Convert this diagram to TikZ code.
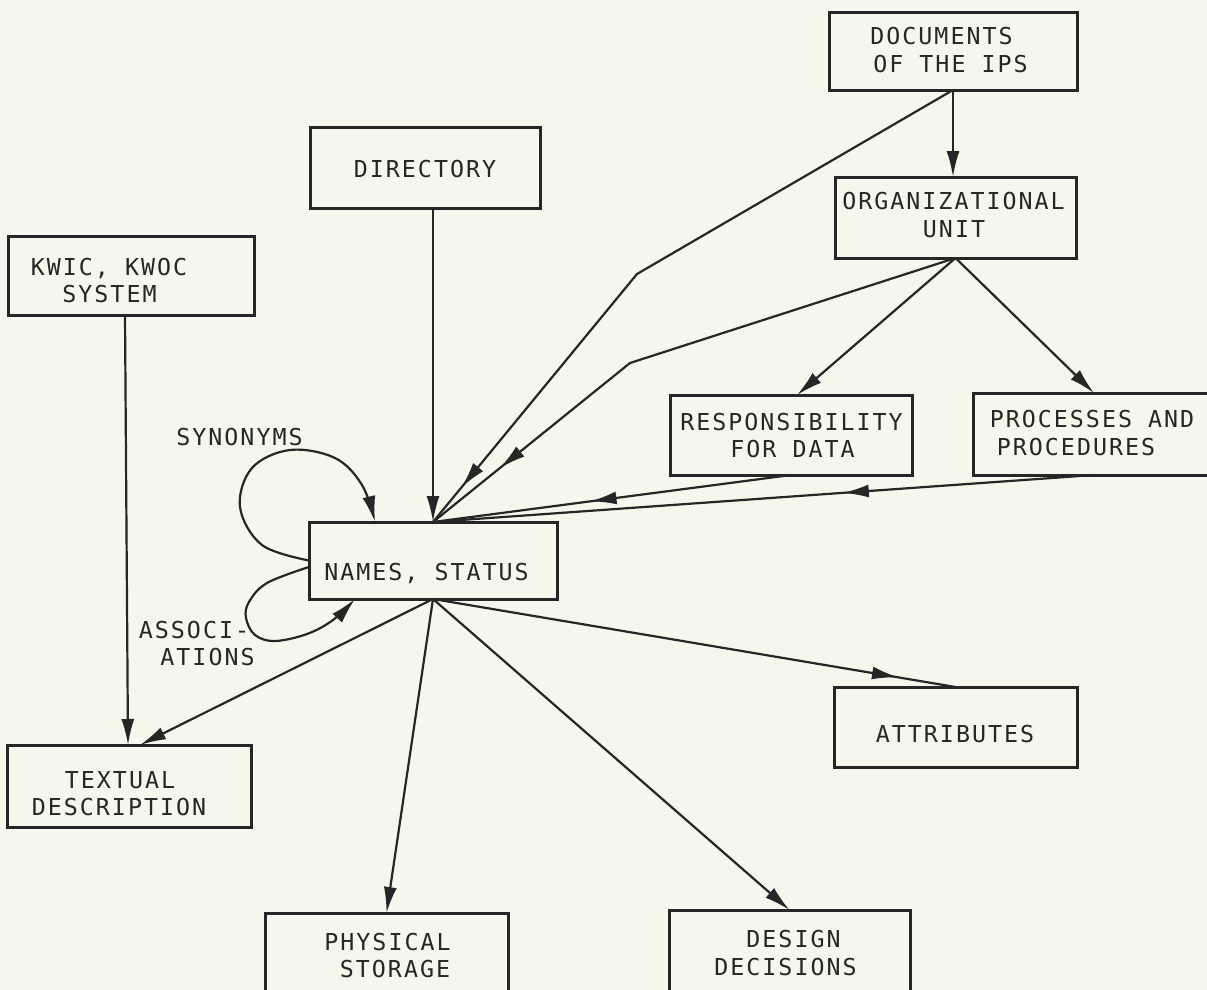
\documentclass[tikz,border=0pt]{standalone}
\usepackage{fontspec}
\newfontfamily\typefont{DejaVu Sans Mono}[LetterSpace=8.6]
\usetikzlibrary{arrows.meta,calc}
\definecolor{paper}{RGB}{246,247,236}
\definecolor{ink}{RGB}{38,38,38}
\begin{document}
\begin{tikzpicture}[x=1pt,y=-1pt,
  box/.style={draw=ink,line width=3pt,inner sep=0pt,outer sep=0pt},
  lbl/.style={font=\typefont\fontsize{23.3}{28}\selectfont,anchor=base,inner sep=0pt,text=ink},
  link/.style={draw=ink,line width=2.2pt,line join=round},
  arr/.style={link,-{Latex[length=26pt,width=13pt]}}]
\fill[paper] (0,0) rectangle (1207,990);
\useasboundingbox (0,0) rectangle (1207,990);
\clip (0,0) rectangle (1207,990);

% boxes
\node[box,minimum width=248pt,minimum height=77pt] (doc)     at (953,51.5)  {};
\node[box,minimum width=241pt,minimum height=81pt] (org)     at (955.5,217.5) {};
\node[box,minimum width=230pt,minimum height=81pt] (dir)     at (425,167.5) {};
\node[box,minimum width=246pt,minimum height=79pt] (kwic)    at (131,275.5) {};
\node[box,minimum width=242pt,minimum height=80pt] (resp)    at (791,435)   {};
\node[box,minimum width=242pt,minimum height=82pt] (proc)    at (1094,434)  {};
\node[box,minimum width=248pt,minimum height=77pt] (names)   at (433,560.5) {};
\node[box,minimum width=243pt,minimum height=80pt] (attr)    at (955.5,727) {};
\node[box,minimum width=244pt,minimum height=82pt] (textual) at (129,786)   {};
\node[box,minimum width=243pt,minimum height=82pt] (phys)    at (386.5,954) {};
\node[box,minimum width=241pt,minimum height=82pt] (design)  at (789.5,951) {};

% box texts, one node per line
\node[lbl] (doc1)  at (941.5,45)  {DOCUMENTS};
\node[lbl] (doc2)  at (950.5,73)  {OF THE IPS};
\node[lbl] (org1)  at (953.5,209) {ORGANIZATIONAL};
\node[lbl] (org2)  at (954,237)   {UNIT};
\node[lbl] (dir1)  at (425,177)   {DIRECTORY};
\node[lbl] (kwic1) at (109,275)   {KWIC, KWOC};
\node[lbl] (kwic2) at (109.5,302) {SYSTEM};
\node[lbl] (resp1) at (791.5,430) {RESPONSIBILITY};
\node[lbl] (resp2) at (792.5,457) {FOR DATA};
\node[lbl] (proc1) at (1092,427)  {PROCESSES AND};
\node[lbl] (proc2) at (1076,455)  {PROCEDURES};
\node[lbl] (nam1)  at (426.5,580) {NAMES, STATUS};
\node[lbl] (attr1) at (955,742)   {ATTRIBUTES};
\node[lbl] (txt1)  at (120,788)   {TEXTUAL};
\node[lbl] (txt2)  at (119,815)   {DESCRIPTION};
\node[lbl] (phys1) at (387.5,950) {PHYSICAL};
\node[lbl] (phys2) at (395,977)   {STORAGE};
\node[lbl] (des1)  at (793.5,947) {DESIGN};
\node[lbl] (des2)  at (785.5,975) {DECISIONS};
\node[lbl] (syn)   at (239.5,445) {SYNONYMS};
\node[lbl] (asc1)  at (194,638)   {ASSOCI-};
\node[lbl] (asc2)  at (207.5,665) {ATIONS};

% bends
\coordinate (b1) at (637,274);
\coordinate (b2) at (630,363);

% documents
\draw[arr] (doc.south) -- (doc.south |- org.north);
\draw[link] (doc.south) -- (b1) -- (names.north);
\draw[arr] ($(b1)!0.80!(names.north)$) -- ($(b1)!0.86!(names.north)$);

% organizational unit
\draw[link] (org.south) -- (b2) -- (names.north);
\draw[arr] ($(b2)!0.60!(names.north)$) -- ($(b2)!0.66!(names.north)$);
\draw[arr] (org.south) -- ([xshift=6pt]resp.north);
\draw[arr] (org.south) -- (proc.north);

% responsibility and processes back to names
\draw[link] (resp.south) -- (names.north);
\draw[arr] ($(resp.south)!0.50!(names.north)$) -- ($(resp.south)!0.56!(names.north)$);
\draw[link] (proc.south) -- (names.north);
\draw[arr] ($(proc.south)!0.34!(names.north)$) -- ($(proc.south)!0.38!(names.north)$);

% directory and kwic
\draw[arr] ([xshift=8pt]dir.south) -- ([xshift=8pt]dir.south |- names.north);
\draw[arr] ([xshift=-6pt]kwic.south) -- ([xshift=-1pt]textual.north);

% from names
\draw[arr] (names.south) -- ([xshift=11pt]textual.north);
\draw[arr] (names.south) -- (phys.north);
\draw[arr] (names.south) -- (design.north);
\draw[link] (names.south) -- (attr.north);
\draw[arr] ($(names.south)!0.84!(attr.north)$) -- ($(names.south)!0.89!(attr.north)$);

% self loops
\coordinate (synA) at (names.west);
\coordinate (synB) at ($(names.north west)+(66,0)$);
\draw[arr] plot[smooth,tension=0.6] coordinates {(synA) (262,545) (240,507) (252,468) (290,450) (335,458) (362,485) (synB)};
\coordinate (ascA) at ($(names.west)+(0,6.5)$);
\coordinate (ascB) at ($(names.south west)+(46,0)$);
\draw[arr] plot[smooth,tension=0.6] coordinates {(ascA) (267,583) (249,602) (246,618) (255,635) (275,641) (307,634) (333,620) (ascB)};
\end{tikzpicture}
\end{document}
